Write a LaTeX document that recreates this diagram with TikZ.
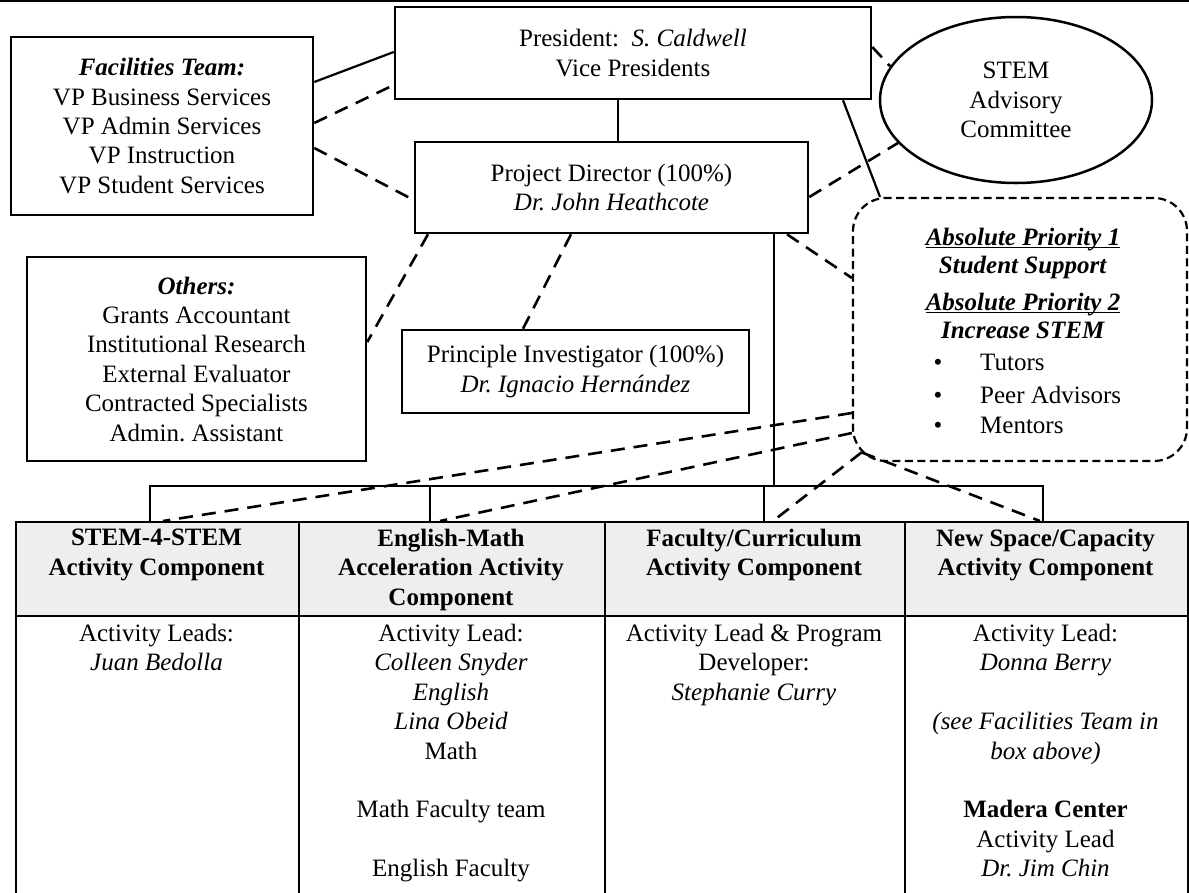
\documentclass[tikz,border=0pt]{standalone}
\usepackage{fontspec}
\setmainfont{Liberation Serif}
\usetikzlibrary{shapes.geometric,calc}
\newcommand\dgsz{\fontsize{25}{29.4}\selectfont}
\newsavebox\ulbox
\newcommand\ulx[1]{\sbox\ulbox{#1}\rlap{\rule[-3.2pt]{\wd\ulbox}{1.3pt}}\usebox\ulbox}
\frenchspacing
\begin{document}
\frenchspacing
\begin{tikzpicture}[x=1pt,y=-1pt,
  box/.style={draw, line width=2.5pt, rectangle, align=center, inner sep=0pt, font=\dgsz},
  conn/.style={line width=2.2pt},
  dconn/.style={line width=2.6pt, dash pattern=on 14pt off 9pt},
  cell/.style={draw, line width=1.8pt, rectangle, inner sep=0pt, anchor=north west},
  hcell/.style={cell, fill=gray!13},
  txt/.style={font=\dgsz, align=center, inner sep=0pt},
  htxt/.style={txt, font=\dgsz\bfseries, anchor=north},
  btxt/.style={txt, anchor=north}
]
\useasboundingbox (0,0) rectangle (1189,892);
\draw[line width=2.4pt] (0,1.2) -- (1189,1.2);

% boxes
\node[box, minimum width=302, minimum height=178] (fac) at (162,126)
  {\textbf{\textit{Facilities Team:}}\\VP Business Services\\VP Admin Services\\VP Instruction\\VP Student Services};
\node[box, minimum width=476, minimum height=92] (pres) at (633,53)
  {President:~~\textit{S. Caldwell}\\Vice Presidents};
\node[box, minimum width=393, minimum height=91] (pd) at (611.5,187.5)
  {Project Director (100\%)\\\textit{Dr. John Heathcote}};
\node[box, minimum width=339, minimum height=204] (oth) at (196.5,359)
  {\textbf{\textit{Others:}}\\Grants Accountant\\Institutional Research\\External Evaluator\\Contracted Specialists\\Admin. Assistant};
\node[box, minimum width=347, minimum height=83] (pi) at (575.5,371.5)
  {Principle Investigator (100\%)\\\textit{Dr. Ignacio Hernández}};
\node[box, ellipse, minimum width=272, minimum height=166] (stem) at (1016,100)
  {STEM\\Advisory\\Committee};
\node[draw, line width=2.2pt, dash pattern=on 8pt off 4.5pt, rounded corners=33pt,
  minimum width=334, minimum height=263, inner sep=0pt] (abs) at (1020,329.5) {};
\coordinate (absc) at ($(abs.south west)+(9.7,-9.7)$);

% rounded box text
\node[txt, anchor=base] (ap1) at (1023,245) {\textbf{\textit{\ulx{Absolute Priority 1}}}};
\node[txt, anchor=base] (ss) at (1023,273) {\textbf{\textit{Student Support}}};
\node[txt, anchor=base] (ap2) at (1023,310) {\textbf{\textit{\ulx{Absolute Priority 2}}}};
\node[txt, anchor=base] (inc) at (1023,338) {\textbf{\textit{Increase STEM}}};
\node[txt, anchor=base] (bu1) at (938,370) {•};
\node[txt, anchor=base] (bu2) at (938,403) {•};
\node[txt, anchor=base] (bu3) at (938,433) {•};
\node[txt, anchor=base west] (li1) at (980,370) {Tutors};
\node[txt, anchor=base west] (li2) at (980,403) {Peer Advisors};
\node[txt, anchor=base west] (li3) at (980,433) {Mentors};

% table
\node[hcell, minimum width=283, minimum height=94] (h1) at (15,521) {};
\node[hcell, minimum width=306, minimum height=94] (h2) at (298,521) {};
\node[hcell, minimum width=300, minimum height=94] (h3) at (604,521) {};
\node[hcell, minimum width=283, minimum height=94] (h4) at (904,521) {};
\node[cell, minimum width=283, minimum height=282] (b1) at (15,615) {};
\node[cell, minimum width=306, minimum height=282] (b2) at (298,615) {};
\node[cell, minimum width=300, minimum height=282] (b3) at (604,615) {};
\node[cell, minimum width=283, minimum height=282] (b4) at (904,615) {};

\node[htxt] (ht1) at (156.5,529) {STEM-4-STEM\\Activity Component};
\node[htxt] (ht2) at (451,529) {English-Math\\Acceleration Activity\\Component};
\node[htxt] (ht3) at (754,529) {Faculty/Curriculum\\Activity Component};
\node[htxt] (ht4) at (1045.5,529) {New Space/Capacity\\Activity Component};

\node[btxt] (bt1) at (156.5,624) {Activity Leads:\\\textit{Juan Bedolla}};
\node[btxt] (bt2) at (451,624) {Activity Lead:\\\textit{Colleen Snyder}\\\textit{English}\\\textit{Lina Obeid}\\Math\\\mbox{}\\Math Faculty team\\\mbox{}\\English Faculty};
\node[btxt] (bt3) at (754,624) {Activity Lead \& Program\\Developer:\\\textit{Stephanie Curry}};
\node[btxt] (bt4) at (1045.5,624) {Activity Lead:\\\textit{Donna Berry}\\\mbox{}\\\textit{(see Facilities Team in}\\\textit{box above)}\\\mbox{}\\\textbf{Madera Center}\\Activity Lead\\\textit{Dr. Jim Chin}};

% connectors
\draw[conn] (fac.east |- 0,82) -- (pres.west |- 0,52);
\draw[dconn] (fac.east |- 0,123) -- (pres.west |- 0,85);
\draw[dconn] (fac.east |- 0,148) -- (pd.west |- 0,200);
\draw[conn] (pres.south -| 618,0) -- (pd.north -| 618,0);
\draw[dconn] (pres.east |- 0,47) -- (stem.165);
\draw[dconn] (pd.east |- 0,197) -- (stem.200);
\draw[conn] (pres.south -| 843,0) -- (abs.north -| 880,0);
\draw[dconn] (pd.south -| 787,0) -- (abs.west |- 0,278);
\draw[dconn] (pd.south -| 428,0) -- (oth.east |- 0,342);
\draw[dconn] (pd.south -| 571,0) -- (pi.north -| 523,0);

\coordinate (busL) at (150,486);
\coordinate (busR) at (1043,486);
\coordinate (busM) at (774,486);
\draw[conn] (pd.south -| busM) -- (busM);
\draw[conn] (h1.north -| busL) -- (busL) -- (busR) -- (h4.north -| busR);
\draw[conn] (h2.north -| 430,0) -- (busL -| 430,0);
\draw[conn] (h3.north -| 764,0) -- (busL -| 764,0);

\draw[dconn] (abs.west |- 0,413) -- (h1.north -| 163,0);
\draw[dconn] (abs.west |- 0,433) -- (h2.north -| 440,0);
\draw[dconn] (absc) -- (h3.north -| 773,0);
\draw[dconn] (absc) -- (h4.north -| 1040,0);
\end{tikzpicture}
\end{document}
